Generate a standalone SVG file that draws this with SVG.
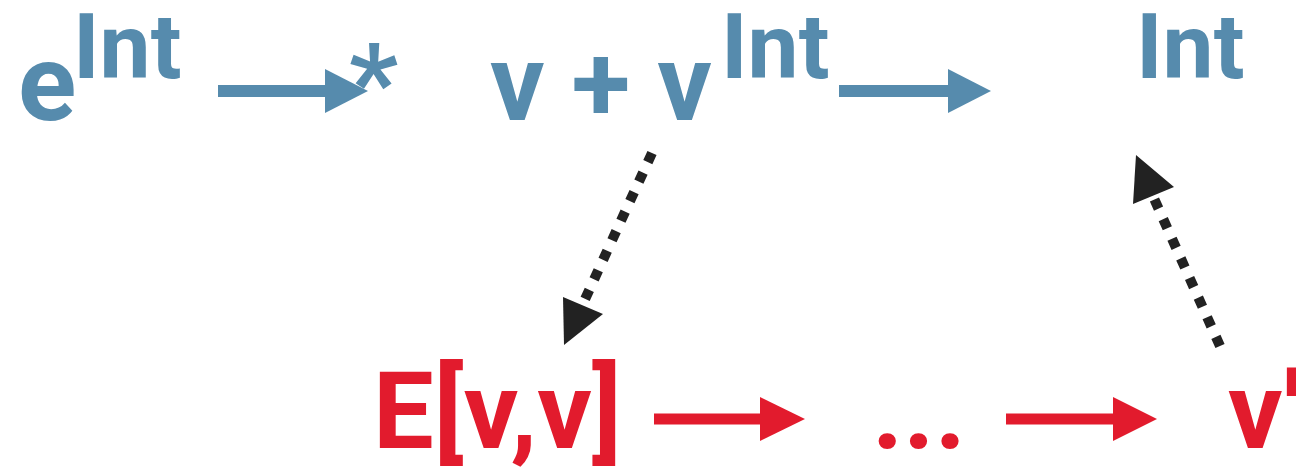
<svg xmlns="http://www.w3.org/2000/svg" width="1296" height="468" viewBox="0 0 1296 468">
<style>
text{font-family:Roboto,"Liberation Sans",sans-serif;font-weight:bold}
.b{fill:#568BAD}
.r{fill:#E21B2D}
.big{font-size:108px}
.sup{font-size:91px}
.bl{stroke:#568BAD;stroke-width:12;fill:none}
.rl{stroke:#E21B2D;stroke-width:11;fill:none}
.dk{stroke:#222;stroke-width:10;stroke-dasharray:10 11.5;fill:none}
</style>
<g id="n-e">
<text class="b big" x="18" y="120">e</text>
<text class="b sup" x="73" y="78">Int</text>
</g>
<g id="n-star"><text class="b big" x="349" y="120">*</text></g>
<g id="n-vpv">
<text class="b big" x="490" y="120">v + v</text>
<text class="b sup" x="721" y="78">Int</text>
</g>
<g id="n-int"><text class="b sup" x="1136" y="78">Int</text></g>
<g id="n-evv"><text class="r big" x="373" y="448">E[v,v]</text></g>
<g id="n-dots"><text class="r big" x="872" y="448">...</text></g>
<g id="n-vp"><text class="r big" x="1228" y="448">v'</text></g>
<g id="connectors">
<line class="bl" x1="218" y1="91" x2="327" y2="91"/>
<polygon fill="#568BAD" points="325,69 368,91 325,113"/>
<line class="bl" x1="839" y1="91" x2="950" y2="91"/>
<polygon fill="#568BAD" points="948,69 991,91 948,113"/>
<line class="rl" x1="654" y1="419" x2="762" y2="419"/>
<polygon fill="#E21B2D" points="760,397 805,419 760,441"/>
<line class="rl" x1="1006" y1="419" x2="1115" y2="419"/>
<polygon fill="#E21B2D" points="1113,397 1157,419 1113,441"/>
<line class="dk" x1="652" y1="153" x2="581" y2="308"/>
<polygon fill="#222" points="564,345 563,297 603,314"/>
<line class="dk" x1="1220" y1="346" x2="1152" y2="194"/>
<polygon fill="#222" points="1136,155 1133,204 1174,187"/>
</g>
</svg>
